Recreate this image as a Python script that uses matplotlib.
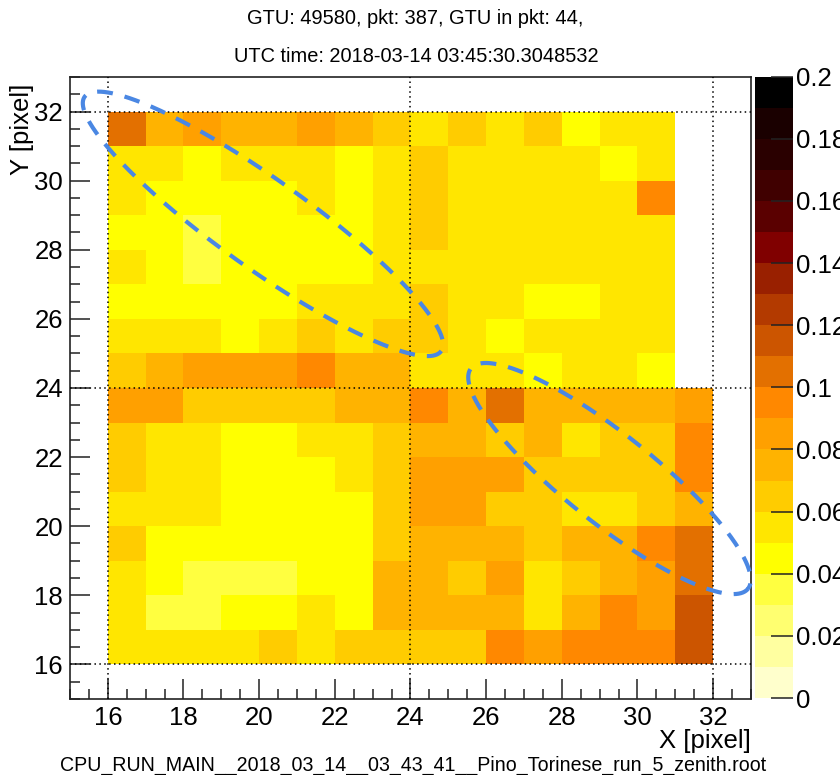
import numpy as np
import matplotlib
matplotlib.use("Agg")
import matplotlib.pyplot as plt
from matplotlib.colors import ListedColormap, BoundaryNorm
from matplotlib.ticker import MultipleLocator, FuncFormatter

plt.rcParams['font.family'] = ['Liberation Sans', 'DejaVu Sans']

# ---------------- data ----------------
x_edges = list(range(16, 33))
y_edges = list(range(16, 33))
nan = float('nan')

# pixel values, columns x = 16 ... 31
row_y31 = [0.105, 0.075, 0.085, 0.075, 0.075, 0.085, 0.075, 0.065, 0.055, 0.065, 0.055, 0.065, 0.045, 0.055, 0.055, nan]
row_y30 = [0.055, 0.055, 0.045, 0.055, 0.055, 0.055, 0.045, 0.055, 0.065, 0.055, 0.055, 0.055, 0.055, 0.045, 0.055, nan]
row_y29 = [0.055, 0.045, 0.045, 0.045, 0.045, 0.055, 0.045, 0.055, 0.065, 0.055, 0.055, 0.055, 0.055, 0.055, 0.095, nan]
row_y28 = [0.045, 0.045, 0.035, 0.045, 0.045, 0.045, 0.045, 0.055, 0.065, 0.055, 0.055, 0.055, 0.055, 0.055, 0.055, nan]
row_y27 = [0.055, 0.045, 0.035, 0.045, 0.045, 0.045, 0.045, 0.055, 0.055, 0.055, 0.055, 0.055, 0.055, 0.055, 0.055, nan]
row_y26 = [0.045, 0.045, 0.045, 0.045, 0.045, 0.055, 0.055, 0.055, 0.065, 0.055, 0.055, 0.045, 0.045, 0.055, 0.055, nan]
row_y25 = [0.055, 0.055, 0.055, 0.045, 0.055, 0.065, 0.055, 0.065, 0.065, 0.055, 0.045, 0.055, 0.055, 0.055, 0.055, nan]
row_y24 = [0.065, 0.075, 0.085, 0.085, 0.085, 0.095, 0.075, 0.075, 0.055, 0.055, 0.055, 0.045, 0.055, 0.055, 0.045, nan]
row_y23 = [0.085, 0.085, 0.065, 0.065, 0.065, 0.065, 0.075, 0.075, 0.095, 0.075, 0.105, 0.075, 0.075, 0.075, 0.075, 0.085]
row_y22 = [0.065, 0.055, 0.055, 0.045, 0.045, 0.055, 0.055, 0.065, 0.075, 0.075, 0.065, 0.075, 0.055, 0.065, 0.065, 0.095]
row_y21 = [0.065, 0.055, 0.055, 0.045, 0.045, 0.045, 0.055, 0.065, 0.085, 0.085, 0.085, 0.065, 0.065, 0.065, 0.065, 0.095]
row_y20 = [0.055, 0.055, 0.055, 0.045, 0.045, 0.045, 0.045, 0.065, 0.085, 0.085, 0.065, 0.065, 0.055, 0.055, 0.065, 0.075]
row_y19 = [0.065, 0.045, 0.045, 0.045, 0.045, 0.045, 0.045, 0.065, 0.075, 0.075, 0.075, 0.065, 0.075, 0.075, 0.095, 0.105]
row_y18 = [0.055, 0.045, 0.035, 0.035, 0.035, 0.045, 0.045, 0.075, 0.075, 0.065, 0.085, 0.055, 0.065, 0.075, 0.085, 0.105]
row_y17 = [0.055, 0.035, 0.035, 0.045, 0.045, 0.055, 0.045, 0.075, 0.075, 0.075, 0.075, 0.055, 0.075, 0.095, 0.085, 0.115]
row_y16 = [0.055, 0.055, 0.055, 0.055, 0.065, 0.055, 0.065, 0.065, 0.065, 0.065, 0.095, 0.085, 0.095, 0.095, 0.095, 0.115]

level_colors = ['#FFFFCC', '#FFFFA0', '#FFFF70', '#FFFF40', '#FFFF00',
                '#FFE600', '#FFCC00', '#FFB300', '#FFA000', '#FF8800',
                '#E37000', '#CC5500', '#B33A00', '#992000', '#800000',
                '#5A0000', '#400000', '#2A0000', '#1A0000', '#000000']
level_bounds = [round(0.01 * i, 2) for i in range(21)]
cbar_ticks = [0, 0.02, 0.04, 0.06, 0.08, 0.1, 0.12, 0.14, 0.16, 0.18, 0.2]
grid_positions = [16, 24, 32]

title_line1 = "GTU: 49580, pkt: 387, GTU in pkt: 44,"
title_line2 = "UTC time: 2018-03-14 03:45:30.3048532"
x_label = "X [pixel]"
y_label = "Y [pixel]"
file_label = "CPU_RUN_MAIN__2018_03_14__03_43_41__Pino_Torinese_run_5_zenith.root"

# annotation ellipses (centre in data units, semi-axes in pixels, tilt in degrees)
ellipse_centres = [(20.10, 28.75), (29.26, 21.38)]
ellipse_axes_px = [(219, 44.5), (177, 44.5)]
ellipse_tilts = [35.5, 38.5]

# ---------------- figure ----------------
W, H = 840, 775
fig = plt.figure(figsize=(W / 100, H / 100), dpi=100)
fig.patch.set_facecolor('white')
ax = fig.add_axes([70 / W, 1 - 699 / H, 681 / W, 622 / H])
cax = fig.add_axes([755 / W, 1 - 698 / H, 38 / W, 621.3 / H])

Z = np.array([row_y16, row_y17, row_y18, row_y19, row_y20, row_y21, row_y22, row_y23,
              row_y24, row_y25, row_y26, row_y27, row_y28, row_y29, row_y30, row_y31])
Zm = np.ma.masked_invalid(Z)

cmap = ListedColormap(level_colors)
cmap.set_bad((1, 1, 1, 0))
norm = BoundaryNorm(level_bounds, cmap.N)
mesh = ax.pcolormesh(x_edges, y_edges, Zm, cmap=cmap, norm=norm,
                     shading='flat', antialiased=False, linewidth=0, zorder=1)

ax.set_xlim(15, 33)
ax.set_ylim(15, 33)

for v in grid_positions:
    ax.axvline(v, color='black', ls=(0, (1, 2.2)), lw=1.1, zorder=3)
    ax.axhline(v, color='black', ls=(0, (1, 2.2)), lw=1.1, zorder=3)

for axis in (ax.xaxis, ax.yaxis):
    axis.set_major_locator(MultipleLocator(2))
    axis.set_minor_locator(MultipleLocator(0.5))
ax.tick_params(which='both', direction='in', top=False, right=False, width=1.1, color='#222222')
ax.tick_params(which='major', length=14.5, labelsize=18.5, pad=5)
ax.tick_params(which='minor', length=7.2)
for s in ax.spines.values():
    s.set_linewidth(1.2)
    s.set_color('#222222')

# ellipses
fig.canvas.draw()
bb = ax.get_window_extent()
sx = bb.width / 18.0
sy = bb.height / 18.0
t = np.linspace(0, 2 * np.pi, 600)
for (cx, cy), (a, b), th in zip(ellipse_centres, ellipse_axes_px, ellipse_tilts):
    thr = np.deg2rad(th)
    du = a * np.cos(t)
    dn = b * np.sin(t)
    dx = du * np.cos(thr) - dn * np.sin(thr)
    dy = du * np.sin(thr) + dn * np.cos(thr)
    ax.plot(cx + dx / sx, cy - dy / sy, color='#4A87E3', lw=3,
            dashes=(3.8, 2.9), clip_on=False, zorder=6,
            dash_capstyle='butt')

# colorbar
cb = fig.colorbar(mesh, cax=cax, ticks=cbar_ticks)
cb.outline.set_visible(False)
cax.yaxis.set_ticks_position('right')
cax.minorticks_off()
cax.tick_params(direction='in', length=15.5, width=1.1, labelsize=18.5, pad=2, color='#222222')
cax.yaxis.set_major_formatter(FuncFormatter(lambda v, p: '%g' % round(v, 2)))

# texts
fig.text(0.494, 1 - 18 / H, title_line1, ha='center', va='center', fontsize=14.4)
fig.text(0.496, 1 - 57 / H, title_line2, ha='center', va='center', fontsize=14.4)
fig.text(22 / W, 1 - 84 / H, y_label, rotation=90, ha='center', va='top', fontsize=18.5)
fig.text(751 / W, 1 - 741 / H, x_label, ha='right', va='center', fontsize=18.5)
fig.text(60 / W, 1 - 765 / H, file_label, ha='left', va='center', fontsize=14.1)

fig.savefig('out.png', dpi=100, facecolor='white')
